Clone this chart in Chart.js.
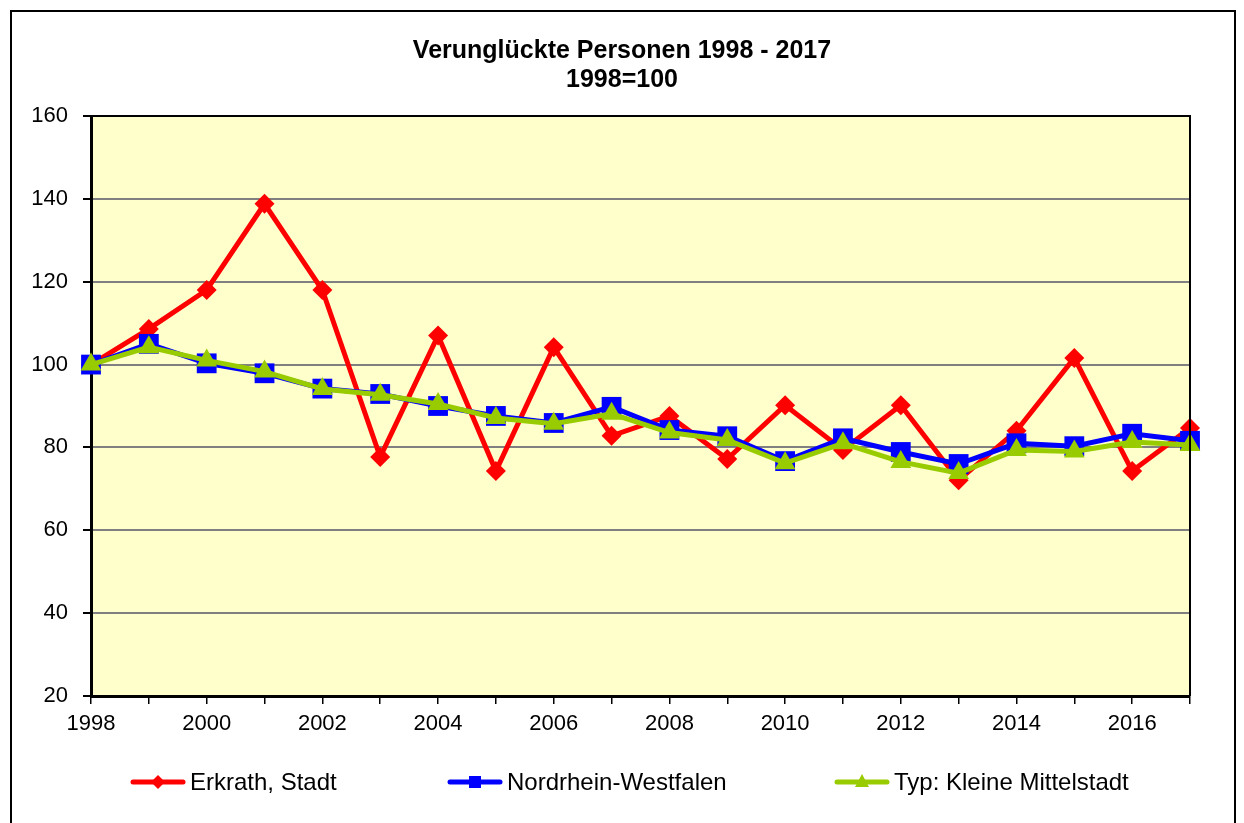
<!DOCTYPE html>
<html>
<head>
<meta charset="utf-8">
<script src="https://cdn.jsdelivr.net/npm/chart.js@4.4.1/dist/chart.umd.min.js"></script>
<style>
html,body{margin:0;padding:0;background:#fff;}
#wrap{position:relative;width:1244px;height:823px;overflow:hidden;}
#title{position:absolute;left:0;top:35px;width:1244px;text-align:center;font-family:"Liberation Sans",Arial,sans-serif;font-weight:bold;font-size:25px;line-height:29px;color:#000;}
#legend{position:absolute;top:767px;left:0;width:1244px;height:30px;font-family:"Liberation Sans",Arial,sans-serif;font-size:24px;color:#000;}
.li{position:absolute;display:flex;align-items:center;height:30px;}
.li canvas{display:block;}
</style>
</head>
<body>
<div id="wrap">
<canvas id="c" width="1244" height="823"></canvas>
<div id="title">Verunglückte Personen 1998 - 2017<br>1998=100</div>
<div id="legend"></div>
</div>
<script>
const years = ['1998','1999','2000','2001','2002','2003','2004','2005','2006','2007','2008','2009','2010','2011','2012','2013','2014','2015','2016','2017'];
const erkrath = [100,108.6,118,138.8,118,77.7,107,74.3,104.2,82.8,87.6,77.2,90.2,79.4,90.2,72.1,84,101.6,74.3,84.7];
const nrw = [100,105,100.3,97.9,94.2,92.9,90,87.6,85.9,89.8,84.2,82.7,76.7,82.2,78.9,76,81,80.3,83.3,81.6];
const typ = [100,104.2,101,98.3,94.1,92.7,90.5,87.1,85.7,88.1,83.6,81.8,76.2,81,76.5,73.8,79.4,79,81.3,80.6];
const yTicks = [20,40,60,80,100,120,140,160];
const seriesNames = ['Erkrath, Stadt','Nordrhein-Westfalen','Typ: Kleine Mittelstadt'];

const colors = ['#FF0000','#0000FF','#99CC00'];
const styles = ['rectRot','rect','triangle'];
const radii = [10,14,12];

const bgPlugin = {
  id:'bg',
  beforeDraw(chart){
    const {ctx, chartArea:a} = chart;
    ctx.save();
    ctx.fillStyle = '#FFFFCC';
    ctx.fillRect(a.left, a.top, a.right-a.left, a.bottom-a.top);
    ctx.restore();
  },
  afterDraw(chart){
    const {ctx, chartArea:a} = chart;
    ctx.save();
    ctx.strokeStyle = '#000';
    ctx.lineWidth = 2;
    ctx.beginPath();
    ctx.moveTo(a.left, a.top); ctx.lineTo(a.right, a.top); ctx.lineTo(a.right, a.bottom);
    ctx.stroke();
    ctx.lineWidth = 2;
    ctx.strokeRect(11, 11, 1224, 900);
    ctx.restore();
  }
};

const mk = (i, data) => ({
  label: seriesNames[i],
  data,
  borderColor: colors[i],
  backgroundColor: colors[i],
  borderWidth: 5,
  pointStyle: styles[i],
  pointRadius: radii[i],
  pointHoverRadius: radii[i],
  pointBorderWidth: 0,
  pointBackgroundColor: colors[i],
  pointBorderColor: colors[i],
  order: 3 - i,
  tension: 0
});

new Chart(document.getElementById('c'), {
  type: 'line',
  data: { labels: years, datasets: [mk(0, erkrath), mk(1, nrw), mk(2, typ)] },
  options: {
    responsive: false,
    animation: false,
    events: [],
    layout: { padding: { top: 116, right: 54, left: 10, bottom: 0 } },
    plugins: { legend: { display: false }, title: { display: false }, tooltip: { enabled: false } },
    scales: {
      x: {
        type: 'category',
        offset: false,
        grid: { drawOnChartArea: false, color: '#000', tickLength: 8, lineWidth: 1.5, tickColor:'#000' },
        border: { color: '#000', width: 3 },
        ticks: {
          autoSkip: false, maxRotation: 0, padding: 7, color: '#000',
          font: { family: '"Liberation Sans", Arial, sans-serif', size: 22 },
          callback: function(v, i){ return i % 2 === 0 ? years[i] : ''; }
        },
        afterFit(s){ s.height = 127; }
      },
      y: {
        min: 20, max: 160,
        afterBuildTicks(s){ s.ticks = yTicks.map(v => ({value: v})); },
        grid: { color: '#808080', lineWidth: 2, tickLength: 8, tickColor: '#000' },
        border: { color: '#000', width: 3 },
        ticks: {
          padding: 15, color: '#000',
          font: { family: '"Liberation Sans", Arial, sans-serif', size: 22 }
        },
        afterFit(s){ s.width = 81; }
      }
    }
  },
  plugins: [bgPlugin]
});

// HTML legend with line + marker symbols
const legendPos = [130, 447, 834];
const legend = document.getElementById('legend');
seriesNames.forEach((name, i) => {
  const item = document.createElement('div');
  item.className = 'li';
  item.style.left = legendPos[i] + 'px';
  const cv = document.createElement('canvas');
  cv.width = 56; cv.height = 30;
  const g = cv.getContext('2d');
  g.strokeStyle = colors[i]; g.fillStyle = colors[i]; g.lineWidth = 5;
  g.lineCap = 'round';
  g.beginPath(); g.moveTo(3, 15); g.lineTo(53, 15); g.stroke();
  const cx = 28, cy = 15, r = 7;
  g.beginPath();
  if (styles[i] === 'rectRot') { g.moveTo(cx, cy-r); g.lineTo(cx+r, cy); g.lineTo(cx, cy+r); g.lineTo(cx-r, cy); }
  else if (styles[i] === 'rect') { const h = 6; g.rect(cx-h, cy-h, 2*h, 2*h); }
  else { g.moveTo(cx, cy-8); g.lineTo(cx+7, cy+5); g.lineTo(cx-7, cy+5); }
  g.closePath(); g.fill();
  const sp = document.createElement('span');
  sp.textContent = name;
  sp.style.marginLeft = '4px';
  item.appendChild(cv); item.appendChild(sp);
  legend.appendChild(item);
});
</script>
</body>
</html>
